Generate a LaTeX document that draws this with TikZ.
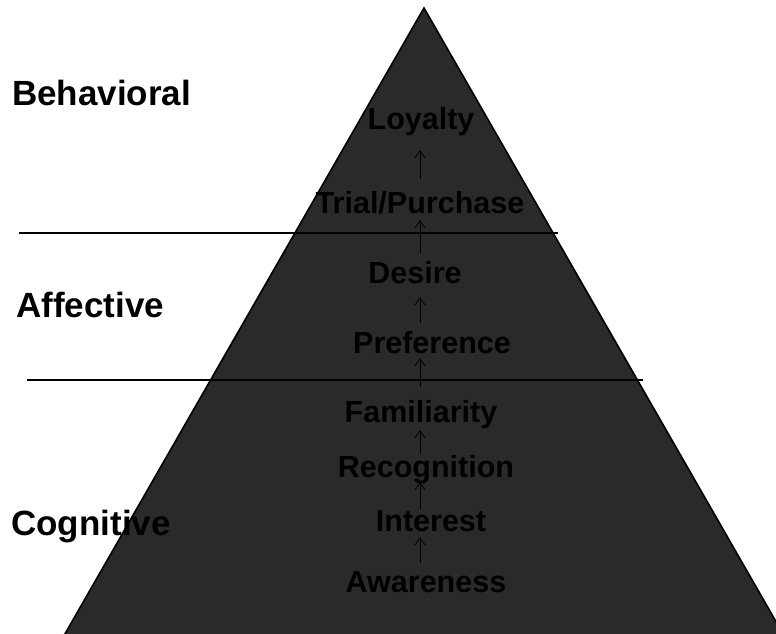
\documentclass[tikz,border=0pt]{standalone}
\usepackage{fontspec}
\setmainfont{Liberation Sans}
\usetikzlibrary{arrows.meta}
\definecolor{pyrfill}{RGB}{42,42,42}
\begin{document}
\begin{tikzpicture}[x=1pt,y=-1pt,
  stage/.style={font=\bfseries\fontsize{30.5}{36}\selectfont, text=black,
    inner sep=0pt, text height=22pt, text depth=0pt, anchor=base},
  tier/.style={font=\bfseries\fontsize{35}{40}\selectfont, text=black,
    inner sep=0pt, anchor=base west},
  stepup/.style={-{Straight Barb[length=7pt,width=10pt]}, line width=0.8pt, black},
  divider/.style={line width=2pt, black}]
  \useasboundingbox (0,0) rectangle (776,634);

  % pyramid body, its base running past the lower edge
  \begin{scope}
    \clip (0,0) rectangle (776,634);
    \filldraw[fill=pyrfill, draw=black, line width=1.6pt]
      (424,8) -- (790,646) -- (58,646) -- cycle;
  \end{scope}

  % tier separators
  \coordinate (d1a) at (19,233);  \coordinate (d1b) at (558,233);
  \coordinate (d2a) at (27,380);  \coordinate (d2b) at (643,380);
  \draw[divider] (d1a) -- (d1b);
  \draw[divider] (d2a) -- (d2b);

  % tier names
  \node[tier] (beh) at (12,105) {Behavioral};
  \node[tier] (aff) at (16,317) {Affective};
  \node[tier] (cog) at (11,535) {Cognitive};

  % stages of the hierarchy
  \node[stage] (loy) at (421,129) {Loyalty};
  \node[stage] (tri) at (420,213) {Trial/Purchase};
  \node[stage] (des) at (415,283) {Desire};
  \node[stage] (pre) at (432,353) {Preference};
  \node[stage] (fam) at (421,422) {Familiarity};
  \node[stage] (rec) at (426,477) {Recognition};
  \node[stage] (int) at (431,531) {Interest};
  \node[stage] (awa) at (426,592) {Awareness};

  % vertical axis of the arrows
  \coordinate (ax) at (420,0);
  \draw[stepup, shorten <=7pt, shorten >=6pt]  (awa.north -| ax) -- (int.south -| ax);
  \draw[stepup, shorten <=0pt, shorten >=5pt]  (int.north -| ax) -- (rec.south -| ax);
  \draw[stepup, shorten <=1pt, shorten >=8pt]  (rec.north -| ax) -- (fam.south -| ax);
  \draw[stepup, shorten <=13pt, shorten >=5pt] (fam.north -| ax) -- (pre.south -| ax);
  \draw[stepup, shorten <=8pt, shorten >=14pt] (pre.north -| ax) -- (des.south -| ax);
  \draw[stepup, shorten <=8pt, shorten >=7pt]  (des.north -| ax) -- (tri.south -| ax);
  \draw[stepup, shorten <=12pt, shorten >=21pt] (tri.north -| ax) -- (loy.south -| ax);
\end{tikzpicture}
\end{document}
